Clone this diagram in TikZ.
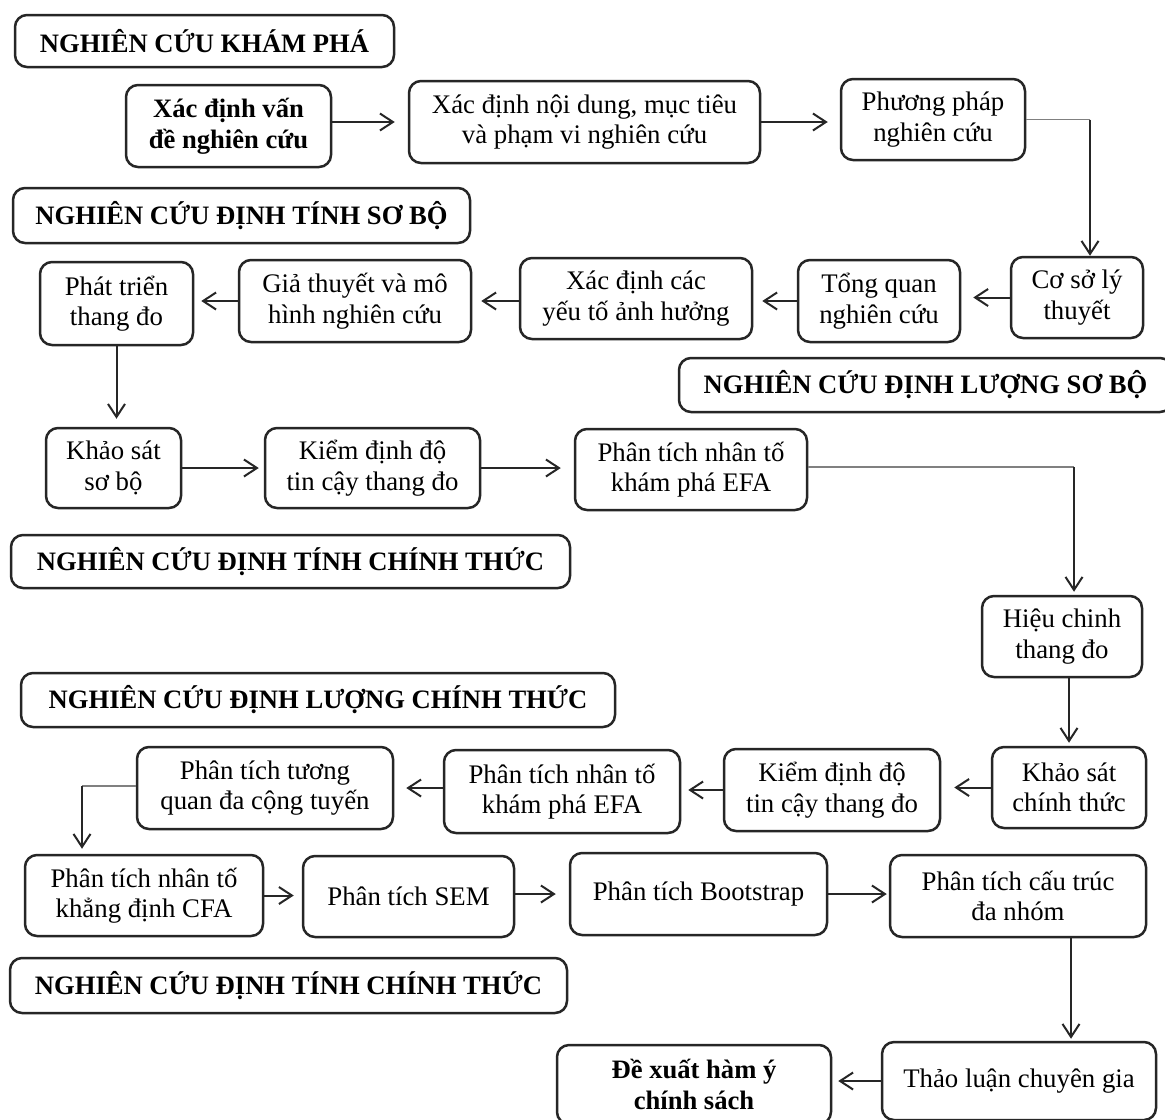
\documentclass[tikz,border=0pt]{standalone}
\usepackage{fontspec}
\setmainfont{Liberation Serif}
\usetikzlibrary{arrows.meta}

\tikzset{
  box/.style={draw=black!85, line width=1.25pt, rounded corners=6pt, inner sep=0pt,
    align=center, font=\fontsize{13.4}{15.2}\selectfont},
  head/.style={box, font=\fontsize{13.3}{15}\selectfont\bfseries},
  strong/.style={box, font=\fontsize{13.3}{15.5}\selectfont\bfseries},
  arr/.style={draw=black!85, line width=1pt, -{Straight Barb[length=6.5pt,width=8.5pt]}},
  leg/.style={draw=black!50, line width=0.8pt},
}

% \bx{style}{name}{left}{top}{right}{bottom}{text}: a box spanning the given corners
\newcommand\bx[7]{%
  \node[#1, minimum width={(#5-#3)*0.5pt}, minimum height={(#6-#4)*0.5pt}]
    (#2) at ({(#3+#5)/2},{(#4+#6)/2}) {#7};}

\begin{document}
\begin{tikzpicture}[x=0.5pt, y=-0.5pt]
\clip (0,0) rectangle (1165,1119);
\fill[white] (0,0) rectangle (1165,1119);

% stage headings
\bx{head}{H1}{15}{15}{394}{67}{NGHIÊN CỨU KHÁM PHÁ}
\bx{head}{H2}{13}{188}{470}{243}{NGHIÊN CỨU ĐỊNH TÍNH SƠ BỘ}
\bx{head}{H3}{679}{358}{1172}{412}{NGHIÊN CỨU ĐỊNH LƯỢNG SƠ BỘ}
\bx{head}{H4}{11}{535}{570}{588}{NGHIÊN CỨU ĐỊNH TÍNH CHÍNH THỨC}
\bx{head}{H5}{21}{673}{615}{727}{NGHIÊN CỨU ĐỊNH LƯỢNG CHÍNH THỨC}
\bx{head}{H6}{10}{958}{567}{1013}{NGHIÊN CỨU ĐỊNH TÍNH CHÍNH THỨC}

% first row
\bx{strong}{B1}{126}{85}{331}{167}{Xác định vấn\\đề nghiên cứu}
\bx{box}{B2}{409}{81}{760}{163}{Xác định nội dung, mục tiêu\\và phạm vi nghiên cứu}
\bx{box}{B3}{841}{79}{1025}{160}{Phương pháp\\nghiên cứu}

% second row
\bx{box}{C1}{40}{262}{193}{345}{Phát triển\\thang đo}
\bx{box}{C2}{239}{260}{471}{342}{Giả thuyết và mô\\hình nghiên cứu}
\bx{box}{C3}{520}{258}{752}{339}{Xác định các\\yếu tố ảnh hưởng}
\bx{box}{C4}{798}{260}{960}{342}{Tổng quan\\nghiên cứu}
\bx{box}{C5}{1011}{257}{1143}{338}{Cơ sở lý\\thuyết}

% third row
\bx{box}{D1}{46}{428}{181}{508}{Khảo sát\\sơ bộ}
\bx{box}{D2}{265}{428}{480}{508}{Kiểm định độ\\tin cậy thang đo}
\bx{box}{D3}{575}{429}{807}{510}{Phân tích nhân tố\\khám phá EFA}

\bx{box}{E1}{982}{596}{1142}{677}{Hiệu chinh\\thang đo}

% fourth row
\bx{box}{F1}{992}{747}{1146}{828}{Khảo sát\\chính thức}
\bx{box}{F2}{724}{749}{940}{831}{Kiểm định độ\\tin cậy thang đo}
\bx{box}{F3}{444}{750}{680}{833}{Phân tích nhân tố\\khám phá EFA}
\bx{box}{F4}{137}{747}{393}{829}{Phân tích tương\\quan đa cộng tuyến}

% fifth row
\bx{box}{G1}{25}{855}{263}{936}{Phân tích nhân tố\\khẳng định CFA}
\bx{box}{G2}{303}{856}{514}{937}{Phân tích SEM}
\bx{box}{G3}{570}{853}{827}{935}{Phân tích Bootstrap}
\bx{box}{G4}{890}{855}{1146}{937}{Phân tích cấu trúc\\đa nhóm}

% last row
\bx{box}{I1}{882}{1042}{1156}{1120}{Thảo luận chuyên gia}
\bx{strong}{I2}{557}{1045}{831}{1124}{Đề xuất hàm ý\\chính sách}

% elbow points
\coordinate (k1) at (1090,119);
\coordinate (k2) at (1074,467);
\coordinate (k3) at (82,786);
\coordinate (k4) at (1071,0);

% connectors
\draw[arr, shorten >=6.5pt] (B1.east |- B2.west) -- (B2.west);
\draw[arr, shorten >=6pt]   (B2.east) -- (B2.east -| B3.west);
\draw[leg] (B3.east) -- (B3.east -| k1);
\draw[arr] (B3.east -| k1) -- (k1 |- C5.north);

\draw[arr, shorten >=6pt]   (C5.west) -- (C5.west -| C4.east);
\draw[arr, shorten >=4.5pt] (C4.west) -- (C4.west -| C3.east);
\draw[arr, shorten >=4.5pt] (C3.west |- C2.east) -- (C2.east);
\draw[arr, shorten >=3.5pt] (C2.west) -- (C2.west -| C1.east);
\draw[arr, shorten >=4pt]   (C1.south) -- (C1.south |- D1.north);

\draw[arr, shorten >=2.5pt] (D1.east) -- (D1.east -| D2.west);
\draw[arr, shorten >=6.5pt] (D2.east) -- (D2.east -| D3.west);
\draw[leg] (D3.east |- k2) -- (k2);
\draw[arr, shorten >=1.5pt] (k2) -- (k2 |- E1.north);
\draw[arr, shorten >=1.5pt] (F1.north |- E1.south) -- (F1.north);

\draw[arr, shorten >=6.5pt] (F1.west) -- (F1.west -| F2.east);
\draw[arr, shorten >=3.5pt] (F2.west) -- (F2.west -| F3.east);
\draw[arr, shorten >=6pt]   (F3.west |- F4.east) -- (F4.east);
\draw[leg] (F4.west |- k3) -- (k3);
\draw[arr, shorten >=2.5pt] (k3) -- (k3 |- G1.north);

\draw[arr, shorten >=4pt]   (G1.east) -- (G1.east -| G2.west);
\draw[arr, shorten >=6.5pt] (G2.east |- G3.west) -- (G3.west);
\draw[arr, shorten >=1pt]   (G3.east) -- (G3.east -| G4.west);
\draw[arr, shorten >=1pt]   (G4.south -| k4) -- (I1.north -| k4);
\draw[arr, shorten >=3pt]   (I1.west) -- (I1.west -| I2.east);
\end{tikzpicture}
\end{document}
